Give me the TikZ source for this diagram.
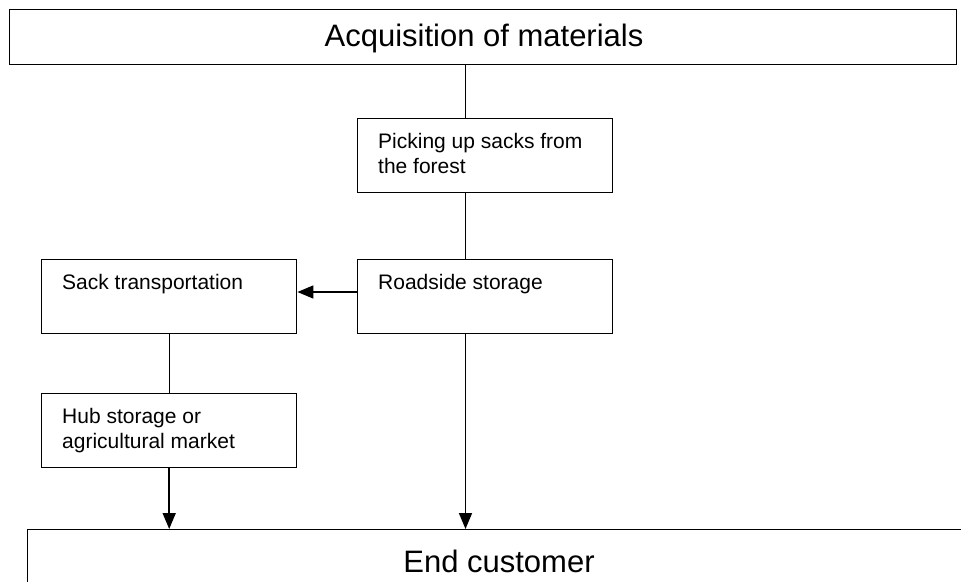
\documentclass[tikz,border=0pt]{standalone}
\usepackage{fontspec}
\setmainfont{Liberation Sans}
\usetikzlibrary{arrows.meta}
\tikzset{
  boxstyle/.style={draw, line width=1.4pt, inner sep=0pt, anchor=north west},
  lbl/.style={anchor=base west, inner sep=0pt, align=left, font=\fontsize{21}{24.5}\selectfont},
  big/.style={anchor=base, inner sep=0pt, font=\fontsize{31}{36}\selectfont},
  conn/.style={line width=1.4pt},
  arr/.style={line width=1.6pt, -{Triangle[length=16pt,width=13pt]}}
}
\begin{document}
\begin{tikzpicture}[x=1pt,y=1pt]
\useasboundingbox (0,0) rectangle (961,-581);
\clip (0,0) rectangle (961,-581);
% boxes
\node[boxstyle, minimum width=947pt, minimum height=55pt] (top) at (9,-9) {};
\node[boxstyle, minimum width=255pt, minimum height=74pt] (pick) at (357,-118) {};
\node[boxstyle, minimum width=255pt, minimum height=74pt] (road) at (357,-259) {};
\node[boxstyle, minimum width=255pt, minimum height=74pt] (sack) at (41,-259) {};
\node[boxstyle, minimum width=255pt, minimum height=74pt] (hub) at (41,-393) {};
\node[boxstyle, minimum width=950pt, minimum height=80pt] (bottom) at (27,-529) {};
% texts
\node[big] (ttop) at (484,-46) {Acquisition of materials};
\node[big] (tbot) at (499,-572) {End customer};
\node[lbl, anchor=north west] (tpick) at ([xshift=21pt,yshift=-15.5pt]pick.north west) {Picking up sacks from\\the forest};
\node[lbl, anchor=north west] (troad) at ([xshift=21pt,yshift=-15.5pt]road.north west) {Roadside storage};
\node[lbl, anchor=north west] (tsack) at ([xshift=21pt,yshift=-15.5pt]sack.north west) {Sack transportation};
\node[lbl, anchor=north west] (thub) at ([xshift=21pt,yshift=-15.5pt]hub.north west) {Hub storage or\\agricultural market};
% connectors
\coordinate (xl) at (465.5,0);
\coordinate (yh) at (0,-292);
\draw[conn] (xl |- top.south) -- (xl |- pick.north);
\draw[conn] (xl |- pick.south) -- (xl |- road.north);
\draw[arr] (road.west |- yh) -- (sack.east |- yh);
\draw[conn] (sack.south) -- (hub.north);
\draw[arr] (hub.south) -- (hub.south |- bottom.north);
\draw[arr] (xl |- road.south) -- (xl |- bottom.north);
\end{tikzpicture}
\end{document}
